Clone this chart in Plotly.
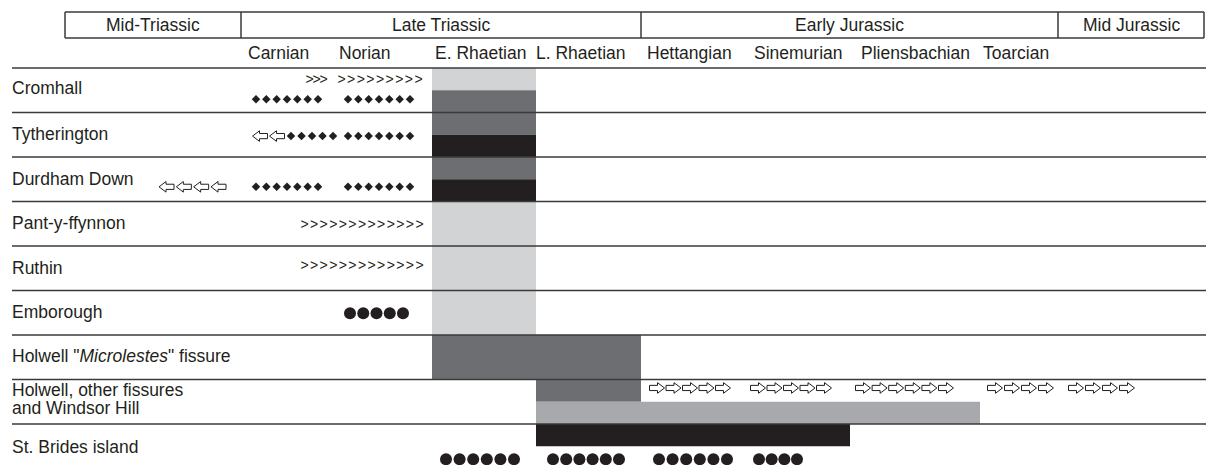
import plotly.graph_objects as go

# ---------------- data ----------------
periods = ["Mid-Triassic", "Late Triassic", "Early Jurassic", "Mid Jurassic"]
period_edges = [65, 241, 641, 1058, 1204]

stages = ["Carnian", "Norian", "E. Rhaetian", "L. Rhaetian",
          "Hettangian", "Sinemurian", "Pliensbachian", "Toarcian"]
stage_edges = [230, 330, 432, 536, 641, 745, 850, 980, 1058]
stage_label_x = [278, 365, 480, 581, 689, 798, 915, 1016]

sites = ["Cromhall", "Tytherington", "Durdham Down", "Pant-y-ffynnon", "Ruthin",
         "Emborough", 'Holwell "<i>Microlestes</i>" fissure',
         "Holwell, other fissures|and Windsor Hill", "St. Brides island"]
site_label_pos = [0.45, 0.48, 0.49, 0.48, 0.49, 0.48, 0.47, 0.43, 0.52]

# age-range bars: site index, first stage, last stage, half of row, shade
bar_site = [0, 0, 1, 1, 2, 2, 3, 4, 5, 6, 7, 7, 8]
bar_from = ["E. Rhaetian"] * 10 + ["L. Rhaetian", "L. Rhaetian", "L. Rhaetian"]
bar_to = ["E. Rhaetian"] * 9 + ["L. Rhaetian", "L. Rhaetian", "Pliensbachian", "Sinemurian"]
bar_part = ["upper", "lower", "upper", "lower", "upper", "lower",
            "full", "full", "full", "full", "upper", "lower", "upper"]
bar_shade = ["light", "dark", "dark", "black", "dark", "black",
             "light", "light", "light", "dark", "dark", "mid", "black"]

# symbol groups: site, kind, count, first centre, last centre
sym_site = [0, 0, 0, 0, 1, 1, 1, 2, 2, 2, 3, 4, 5, 7, 7, 7, 7, 7, 8, 8, 8, 8]
sym_kind = ["gt", "gt", "diamond", "diamond",
            "left", "diamond", "diamond",
            "left", "diamond", "diamond",
            "gt", "gt", "dot",
            "right", "right", "right", "right", "right",
            "dot", "dot", "dot", "dot"]
sym_count = [3, 9, 7, 7, 2, 5, 7, 4, 7, 7, 13, 13, 5, 5, 5, 6, 4, 4, 6, 6, 6, 4]
sym_first = [309.5, 341.5, 256, 348, 260, 291, 348, 166.5, 256, 348, 304.5, 304.5, 350,
             657, 758, 863, 995, 1076, 446, 553, 659, 759]
sym_last = [323.5, 418.5, 318, 410, 277, 333, 410, 218.5, 318, 410, 419.5, 419.5, 403,
            723, 824, 946, 1046, 1127, 514, 619, 727, 797]
sym_row_pos = [0.29, 0.29, 0.70, 0.70, 0.53, 0.53, 0.53, 0.67, 0.67, 0.67, 0.55, 0.47, 0.51,
               0.19, 0.19, 0.19, 0.19, 0.19, 0.79, 0.79, 0.79, 0.79]

# ---------------- styles ----------------
FONT = "Liberation Sans, Arial, Helvetica, sans-serif"
INK = "#231f20"
LINE = "#3a3a3a"
shade_color = {"light": "#d1d3d4", "dark": "#6d6e71", "mid": "#a7a9ac", "black": "#231f20"}
part_offset = {"upper": (0.25, 0.5), "lower": (0.75, 0.5), "full": (0.5, 1.0)}

n_rows = len(sites)
top_px, row_px, H, W = 68, 44.5, 465, 1206
y_top = -top_px / row_px
y_bot = (H - top_px) / row_px

stage_start = {s: stage_edges[i] for i, s in enumerate(stages)}
stage_end = {s: stage_edges[i + 1] for i, s in enumerate(stages)}

fig = go.Figure()

# bars
fig.add_trace(go.Bar(
    orientation="h",
    y=[bar_site[i] + part_offset[bar_part[i]][0] for i in range(len(bar_site))],
    base=[stage_start[b] for b in bar_from],
    x=[stage_end[bar_to[i]] - stage_start[bar_from[i]] for i in range(len(bar_site))],
    width=[part_offset[p][1] for p in bar_part],
    marker=dict(color=[shade_color[s] for s in bar_shade], line=dict(width=0)),
    hoverinfo="skip",
))


def centres(a, b, n):
    if n == 1:
        return [a]
    return [a + k * (b - a) / (n - 1) for k in range(n)]


# block-arrow outline (pixel offsets from the symbol centre, pointing right)
ARROW = [(-7.5, -2.6), (0.5, -2.6), (0.5, -5.3), (7.5, 0), (0.5, 5.3), (0.5, 2.6), (-7.5, 2.6), (-7.5, -2.6)]

marker_style = {
    "diamond": dict(symbol="diamond", size=6.5, color=INK),
    "dot": dict(symbol="circle", size=12, color=INK),
}
for i in range(len(sym_site)):
    xs = centres(sym_first[i], sym_last[i], sym_count[i])
    yc = sym_site[i] + sym_row_pos[i]
    k = sym_kind[i]
    if k in marker_style:
        fig.add_trace(go.Scatter(x=xs, y=[yc] * len(xs), mode="markers",
                                 marker=dict(**marker_style[k], line=dict(width=0)),
                                 hoverinfo="skip"))
    elif k == "gt":
        fig.add_trace(go.Scatter(x=xs, y=[yc] * len(xs), mode="text", text=[">"] * len(xs),
                                 textposition="middle center",
                                 textfont=dict(size=14, family=FONT, color=INK),
                                 hoverinfo="skip"))
    else:
        d = 1 if k == "right" else -1
        px, py = [], []
        for xc in xs:
            for ox, oy in ARROW:
                px.append(xc + d * ox)
                py.append(yc + oy / row_px)
            px.append(None)
            py.append(None)
        fig.add_trace(go.Scatter(x=px, y=py, mode="lines", fill="toself",
                                 fillcolor="white", line=dict(color=INK, width=1),
                                 hoverinfo="skip"))

shapes = []
# row separators (including the line under the stage names)
for r in range(n_rows):
    shapes.append(dict(type="line", xref="x", yref="y", x0=12, x1=W, y0=r, y1=r,
                       line=dict(color=LINE, width=1.5), layer="above"))
# header box
hb_top, hb_bot = (12 - top_px) / row_px, (38 - top_px) / row_px
for yv in (hb_top, hb_bot):
    shapes.append(dict(type="line", xref="x", yref="y", x0=period_edges[0], x1=period_edges[-1],
                       y0=yv, y1=yv, line=dict(color=LINE, width=1.5), layer="above"))
for xv in period_edges:
    shapes.append(dict(type="line", xref="x", yref="y", x0=xv, x1=xv, y0=hb_top, y1=hb_bot,
                       line=dict(color=LINE, width=1.5), layer="above"))

annotations = []
for i, p in enumerate(periods):
    annotations.append(dict(x=(period_edges[i] + period_edges[i + 1]) / 2, y=(hb_top + hb_bot) / 2,
                            text=p, showarrow=False, xanchor="center", yanchor="middle",
                            font=dict(size=17.5, family=FONT, color=INK)))
for i, s in enumerate(stages):
    annotations.append(dict(x=stage_label_x[i], y=(53 - top_px) / row_px, text=s,
                            showarrow=False, xanchor="center", yanchor="middle",
                            font=dict(size=17.5, family=FONT, color=INK)))
for i, s in enumerate(sites):
    lines = s.split("|")
    if len(lines) == 1:
        annotations.append(dict(x=10, y=i + site_label_pos[i], text=s, showarrow=False,
                                xanchor="left", yanchor="middle",
                                font=dict(size=17.5, family=FONT, color=INK)))
    else:
        for j, ln in enumerate(lines):
            annotations.append(dict(x=10, y=i + site_label_pos[i] - 0.2 + 0.4 * j, text=ln,
                                    showarrow=False, xanchor="left", yanchor="middle",
                                    font=dict(size=17.5, family=FONT, color=INK)))

fig.update_layout(
    width=W, height=H,
    margin=dict(l=0, r=0, t=0, b=0),
    paper_bgcolor="white", plot_bgcolor="white",
    showlegend=False, barmode="overlay",
    xaxis=dict(range=[0, W], visible=False, fixedrange=True),
    yaxis=dict(range=[y_bot, y_top], visible=False, fixedrange=True),
    shapes=shapes, annotations=annotations,
)

fig.write_html("out.html", config={"displayModeBar": False},
               post_script="document.body.style.margin='0';document.body.style.overflow='hidden';")
